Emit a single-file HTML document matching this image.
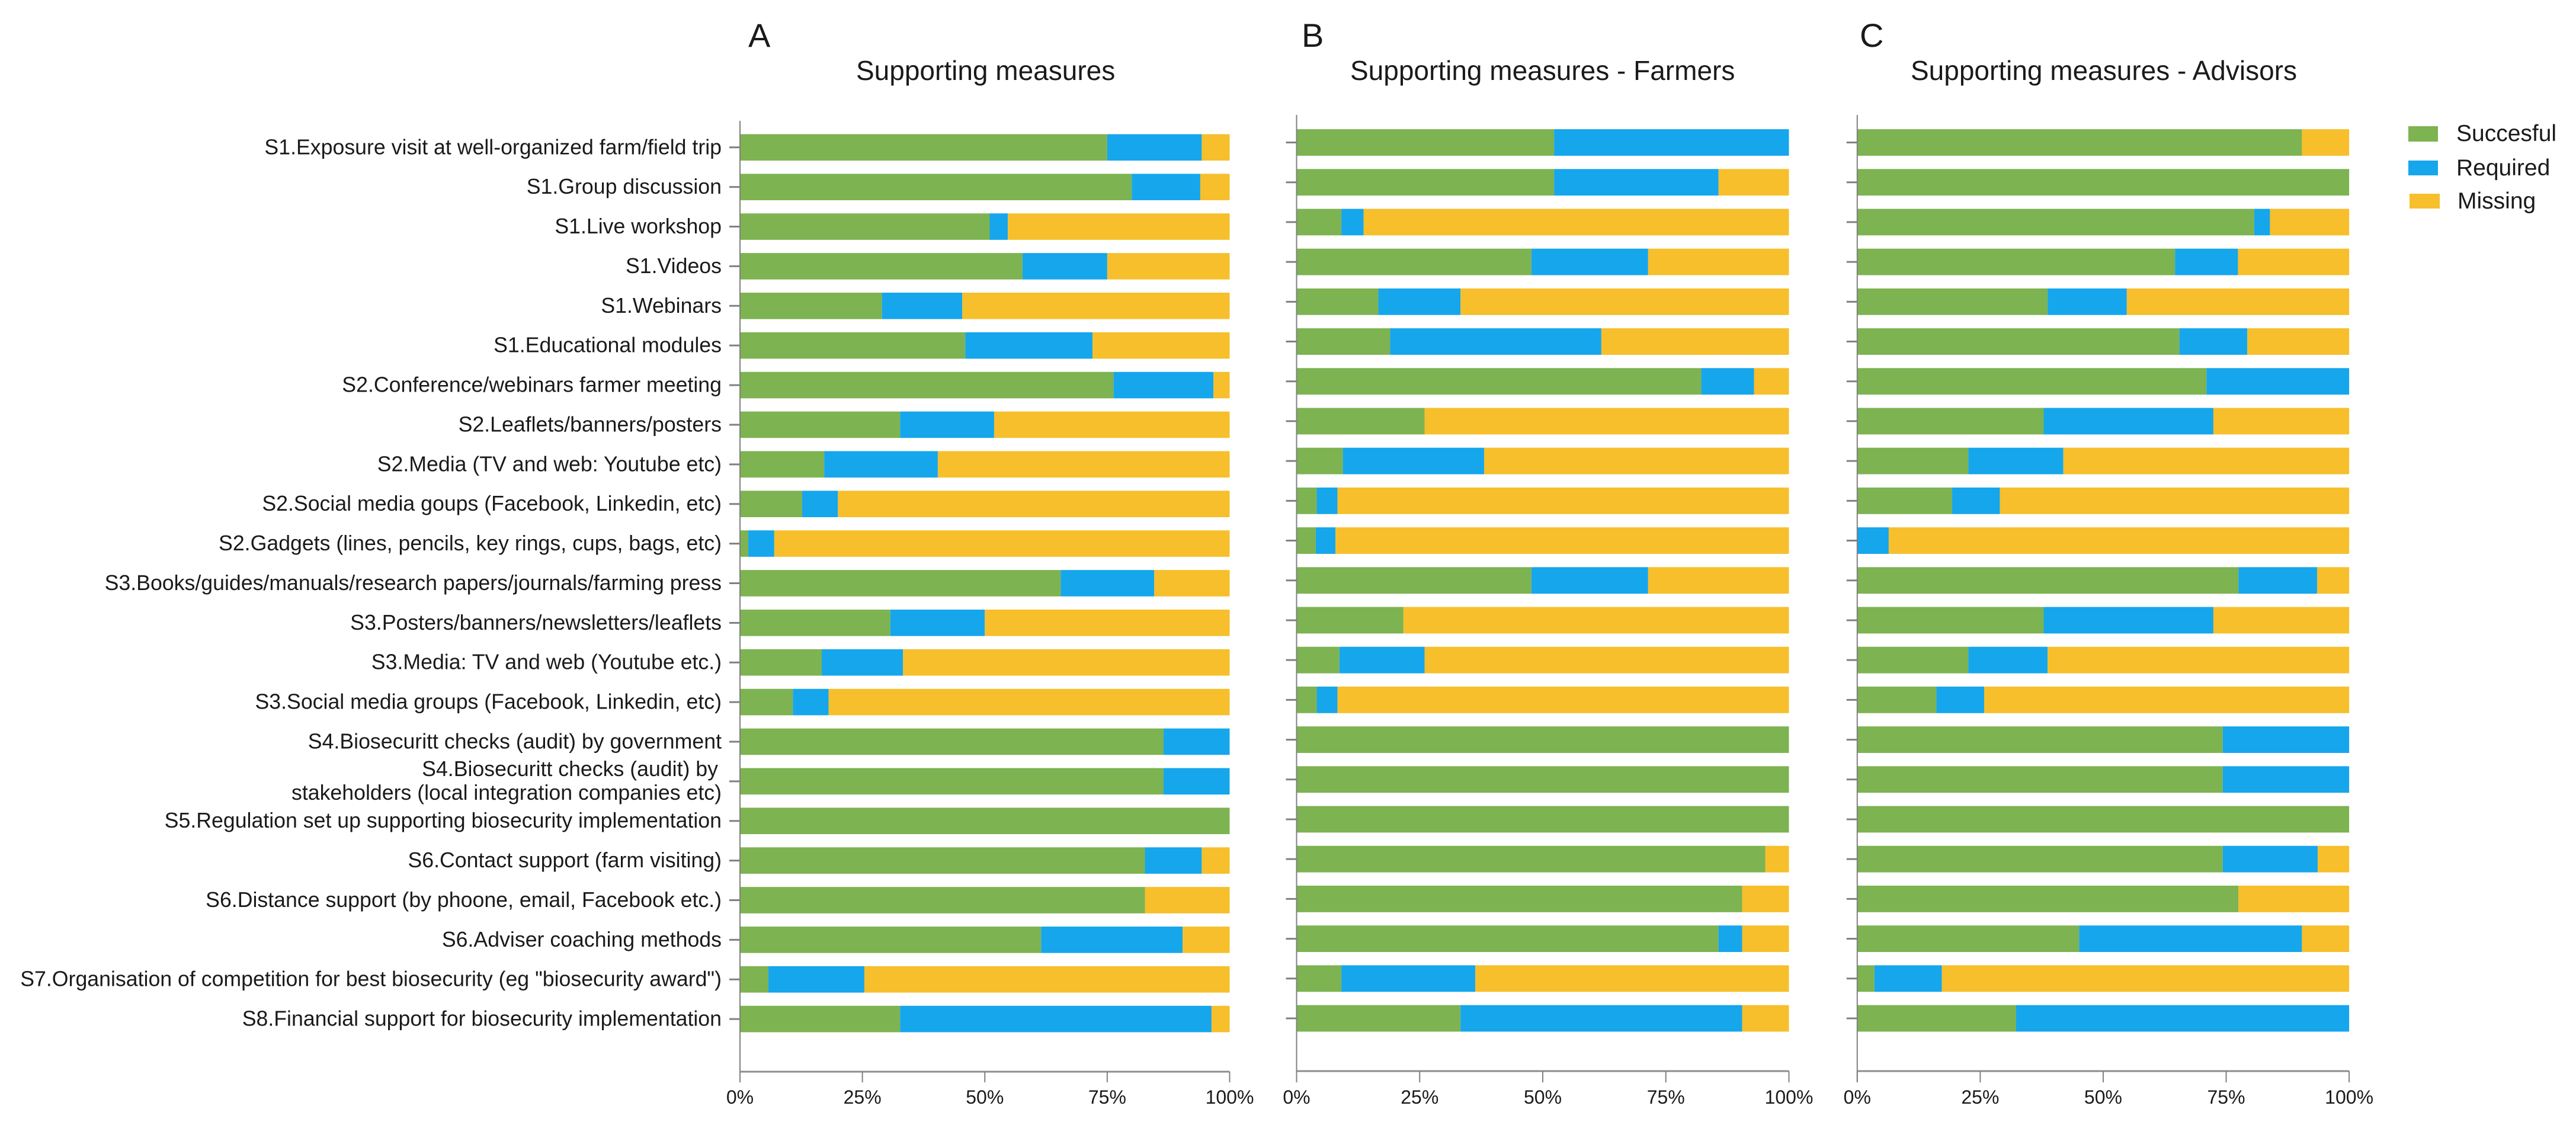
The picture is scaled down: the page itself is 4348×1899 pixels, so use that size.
<!DOCTYPE html>
<html lang="en">
<head>
<meta charset="utf-8">
<title>Supporting measures</title>
<style>
  html, body { margin: 0; padding: 0; background: #fff; }
  #chart { display: block; width: 4348px; height: 1899px; background: #fff; }
  text { font-family: "Liberation Sans", Arial, sans-serif; fill: #1a1a1a; }
</style>
</head>
<body>
<svg id="chart" xmlns="http://www.w3.org/2000/svg" width="4348" height="1899" viewBox="0 0 4348 1899">
  <text x="1263" y="79" font-size="56">A</text>
  <text x="2197" y="79" font-size="56">B</text>
  <text x="3139" y="79" font-size="56">C</text>
  <text x="1445" y="135" font-size="46">Supporting measures</text>
  <text x="2279" y="135" font-size="46">Supporting measures - Farmers</text>
  <text x="3225" y="135" font-size="46">Supporting measures - Advisors</text>
  <g id="panels"></g>
  <g>
    <rect x="4065" y="213" width="50" height="26" fill="#7db351"/>
    <text x="4146" y="238" font-size="39">Succesful</text>
    <rect x="4065" y="271" width="50" height="25" fill="#16a6ec"/>
    <text x="4146" y="296" font-size="39">Required</text>
    <rect x="4067" y="327" width="51" height="25" fill="#f6bf2b"/>
    <text x="4148" y="352" font-size="39">Missing</text>
  </g>
</svg>
<script>
const categories = [
  "S1.Exposure visit at well-organized farm/field trip",
  "S1.Group discussion",
  "S1.Live workshop",
  "S1.Videos",
  "S1.Webinars",
  "S1.Educational modules",
  "S2.Conference/webinars farmer meeting",
  "S2.Leaflets/banners/posters",
  "S2.Media (TV and web: Youtube etc)",
  "S2.Social media goups (Facebook, Linkedin, etc)",
  "S2.Gadgets (lines, pencils, key rings, cups, bags, etc)",
  "S3.Books/guides/manuals/research papers/journals/farming press",
  "S3.Posters/banners/newsletters/leaflets",
  "S3.Media: TV and web (Youtube etc.)",
  "S3.Social media groups (Facebook, Linkedin, etc)",
  "S4.Biosecuritt checks (audit) by government",
  "S4.Biosecuritt checks (audit) by \nstakeholders (local integration companies etc)",
  "S5.Regulation set up supporting biosecurity implementation",
  "S6.Contact support (farm visiting)",
  "S6.Distance support (by phoone, email, Facebook etc.)",
  "S6.Adviser coaching methods",
  "S7.Organisation of competition for best biosecurity (eg \"biosecurity award\")",
  "S8.Financial support for biosecurity implementation"
];
const xTickValues = [0, 25, 50, 75, 100];
const xTickLabels = ["0%", "25%", "50%", "75%", "100%"];
const seriesNames = ["succesful", "required", "missing"];

const succesfulA = [75.0, 80.0, 51.0, 57.7, 29.0, 46.0, 76.3, 32.7, 17.2, 12.7, 1.7, 65.5, 30.7, 16.7, 10.8, 86.5, 86.5, 100, 82.7, 82.7, 61.5, 5.8, 32.7];
const requiredA = [19.3, 14.0, 3.7, 17.3, 16.4, 26.0, 20.4, 19.2, 23.2, 7.3, 5.3, 19.1, 19.3, 16.6, 7.3, 13.5, 13.5, 0, 11.6, 0, 28.9, 19.6, 63.6];
const missingA = [5.7, 6.0, 45.3, 25.0, 54.6, 28.0, 3.3, 48.1, 59.6, 80.0, 93.0, 15.4, 50.0, 66.7, 81.9, 0, 0, 0, 5.7, 17.3, 9.6, 74.6, 3.7];

const succesfulB = [52.3, 52.3, 9.1, 47.7, 16.6, 19.0, 82.2, 26.0, 9.4, 4.1, 3.9, 47.7, 21.7, 8.7, 4.1, 100, 100, 100, 95.2, 90.5, 85.7, 9.1, 33.3];
const requiredB = [47.7, 33.4, 4.5, 23.7, 16.7, 42.9, 10.7, 0, 28.7, 4.2, 4.0, 23.7, 0, 17.3, 4.2, 0, 0, 0, 0, 0, 4.8, 27.2, 57.2];
const missingB = [0, 14.3, 86.4, 28.6, 66.7, 38.1, 7.1, 74.0, 61.9, 91.7, 92.1, 28.6, 78.3, 74.0, 91.7, 0, 0, 0, 4.8, 9.5, 9.5, 63.7, 9.5];

const succesfulC = [90.4, 100, 80.7, 64.6, 38.7, 65.5, 71.0, 37.9, 22.6, 19.3, 0, 77.5, 37.9, 22.6, 16.1, 74.3, 74.3, 100, 74.3, 77.5, 45.1, 3.5, 32.3];
const requiredC = [0, 0, 3.2, 12.8, 16.1, 13.8, 29.0, 34.5, 19.3, 9.7, 6.4, 16.0, 34.5, 16.1, 9.7, 25.7, 25.7, 0, 19.3, 0, 45.3, 13.7, 67.7];
const missingC = [9.6, 0, 16.1, 22.6, 45.2, 20.7, 0, 27.6, 58.1, 71.0, 93.6, 6.5, 27.6, 61.3, 74.2, 0, 0, 0, 6.4, 22.5, 9.6, 82.8, 0];

const seriesColors = { succesful: "#7db351", required: "#16a6ec", missing: "#f6bf2b" };

const panelA = { key: "a", left: 1249, right: 2075.5, top: 204, axisY: 1809, tickEnd: 1827, firstRow: 248.8, lastRow: 1720.1, barH: 44.6, labels: true,
  values: { succesful: succesfulA, required: requiredA, missing: missingA } };
const panelB = { key: "b", left: 2188.5, right: 3019.5, top: 194, axisY: 1808, tickEnd: 1827, firstRow: 240.5, lastRow: 1719, barH: 44.8, labels: false,
  values: { succesful: succesfulB, required: requiredB, missing: missingB } };
const panelC = { key: "c", left: 3134.8, right: 3965.1, top: 194, axisY: 1808, tickEnd: 1827, firstRow: 240.5, lastRow: 1719, barH: 44.8, labels: false,
  values: { succesful: succesfulC, required: requiredC, missing: missingC } };

const SVG_NS = "http://www.w3.org/2000/svg";
const AXIS_COLOR = "#808080";

function shape(tag, attrs, parent) {
  const el = document.createElementNS(SVG_NS, tag);
  for (const k in attrs) el.setAttribute(k, attrs[k]);
  parent.appendChild(el);
  return el;
}
function xScale(p, v) { return p.left + (v / 100) * (p.right - p.left); }
function yScale(p, i) { return p.firstRow + i * (p.lastRow - p.firstRow) / (categories.length - 1); }

function drawPanel(p, root) {
  const g = shape("g", {}, root);
  
  

  categories.forEach(function (cat, i) {
    const cy = yScale(p, i);
    let cum = 0;
    seriesNames.forEach(function (s) {
      const v = p.values[s][i];
      if (v > 0) {
        const bar = shape("rect", {
          x: xScale(p, cum), y: cy - p.barH / 2,
          width: xScale(p, cum + v) - xScale(p, cum), height: p.barH,
          fill: seriesColors[s]
        }, g);
        
        
      }
      cum += v;
    });

    const tick = shape("line", { x1: p.left - 18, x2: p.left, y1: cy, y2: cy, stroke: AXIS_COLOR, "stroke-width": 3 }, g);
    
    

    if (p.labels) {
      const lines = cat.split("\n");
      const label = shape("text", { "text-anchor": "end", "font-size": 35.7 }, g);
      
      
      if (lines.length === 1) {
        label.setAttribute("x", p.left - 31);
        label.setAttribute("y", cy + 11.5);
        label.textContent = cat;
      } else {
        lines.forEach(function (ln, j) {
          const t = shape("tspan", { x: p.left - 31 - (j === 0 ? 6 : 0), y: cy - 9 + j * 40 }, label);
          t.textContent = ln.trim();
        });
      }
    }
  });

  const yAxis = shape("line", { x1: p.left, x2: p.left, y1: p.top, y2: p.tickEnd, stroke: AXIS_COLOR, "stroke-width": 2 }, g);
  
  

  const xAxis = shape("line", { x1: p.left, x2: p.right, y1: p.axisY, y2: p.axisY, stroke: "#8c8c8c", "stroke-width": 3 }, g);
  
  

  xTickValues.forEach(function (v, i) {
    const x = xScale(p, v);
    const t = shape("line", { x1: x, x2: x, y1: p.axisY, y2: p.tickEnd, stroke: AXIS_COLOR, "stroke-width": 2 }, g);
    
    
    const lab = shape("text", { x: x, y: 1863, "text-anchor": "middle", "font-size": 32 }, g);
    
    
    lab.textContent = xTickLabels[i];
  });
}

const panelsRoot = document.getElementById("panels");
[panelA, panelB, panelC].forEach(function (p) { drawPanel(p, panelsRoot); });
</script>
</body>
</html>
